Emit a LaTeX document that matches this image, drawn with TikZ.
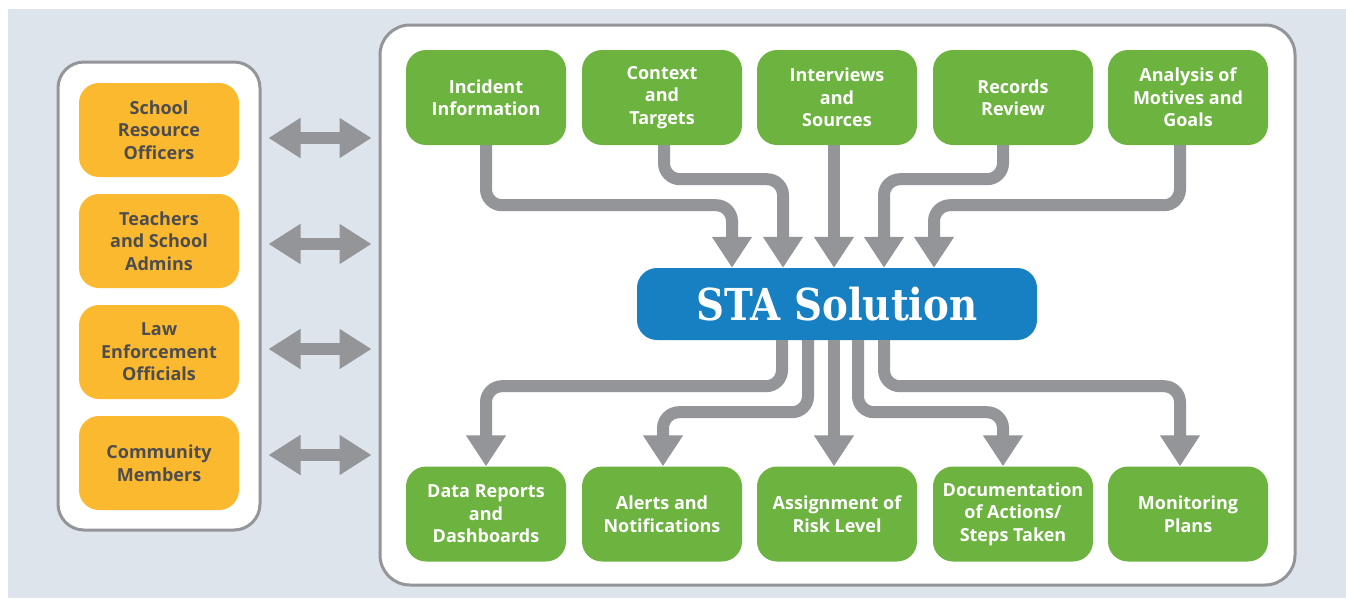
\documentclass[tikz,border=0pt]{standalone}
\usepackage{fontspec}
\setmainfont{Open Sans}
\newfontfamily\slab{DejaVu Serif}
\usetikzlibrary{arrows.meta}
\definecolor{bgc}{HTML}{DDE4EC}
\definecolor{gry}{HTML}{939598}
\definecolor{orng}{HTML}{FBB92F}
\definecolor{grn}{HTML}{6CB33F}
\definecolor{blu}{HTML}{1780C2}
\definecolor{txtg}{HTML}{4D4D4F}
\tikzset{
  panel/.style={draw=gry, line width=3pt, fill=white, rounded corners=26pt, inner sep=0pt},
  obox/.style={fill=orng, rounded corners=20pt, minimum width=160pt, minimum height=94pt,
    text=txtg, font=\bfseries\fontsize{18}{22.5}\selectfont, align=center, inner sep=0pt},
  gbox/.style={fill=grn, rounded corners=20pt, minimum width=160pt, minimum height=95pt,
    text=white, font=\bfseries\fontsize{18}{22.5}\selectfont, align=center, inner sep=0pt},
  stabox/.style={fill=blu, rounded corners=20pt, minimum width=400pt, minimum height=72pt,
    text=white, inner sep=0pt},
  flow/.style={draw=gry, line width=12pt, rounded corners=16pt,
    -{Triangle[length=31pt,width=38pt]}},
  dbl/.style={draw=gry, line width=12pt,
    {Triangle[length=32pt,width=38pt]}-{Triangle[length=32pt,width=38pt]},
    shorten <=7pt, shorten >=7pt}
}
\begin{document}
\begin{tikzpicture}[x=1pt,y=-1pt]
\useasboundingbox (0,0) rectangle (1346,598);
\fill[bgc] (8,9) rectangle (1346,598);

% panels
\node[panel, minimum width=202pt, minimum height=468pt] (lp) at (159,296) {};
\node[panel, rounded corners=30pt, minimum width=915pt, minimum height=560pt] (rp) at (837.5,305) {};

% left orange boxes
\node[obox] (sro) at (159,130) {School\\Resource\\Officers};
\node[obox] (tch) at (159,241) {Teachers\\and School\\Admins};
\node[obox] (law) at (159,352) {Law\\Enforcement\\Officials};
\node[obox] (com) at (159,463) {Community\\Members};

% double arrows
\draw[dbl] ([yshift=158pt]lp.east) coordinate (a1) -- (a1 -| rp.west);
\draw[dbl] ([yshift=52pt]lp.east) coordinate (a2) -- (a2 -| rp.west);
\draw[dbl] ([yshift=-53pt]lp.east) coordinate (a3) -- (a3 -| rp.west);
\draw[dbl] ([yshift=-159pt]lp.east) coordinate (a4) -- (a4 -| rp.west);

% top green boxes
\node[gbox] (inc) at (486,97.5) {Incident\\Information};
\node[gbox] (ctx) at (662,97.5) {Context\\and\\Targets};
\node[gbox] (int) at (837,97.5) {Interviews\\and\\Sources};
\node[gbox] (rec) at (1013,97.5) {Records\\Review};
\node[gbox] (ana) at (1188,97.5) {Analysis of\\Motives and\\Goals};

% STA
\node[stabox] (sta) at (837,304) {\scalebox{0.88}[1]{\slab\bfseries\fontsize{44}{50}\selectfont STA Solution}};

% bottom green boxes
\node[gbox] (dat) at (486,514) {Data Reports\\and\\Dashboards};
\node[gbox] (alr) at (662,514) {Alerts and\\Notifications};
\node[gbox] (asg) at (837,514) {Assignment of\\Risk Level};
\node[gbox] (doc) at (1013,514) {Documentation\\of Actions/\\Steps Taken};
\node[gbox] (mon) at (1188,514) {Monitoring\\Plans};

% top flows
\draw[flow] (inc.south) -- ++(0,60) -| ([xshift=-105pt]sta.north);
\draw[flow] ([xshift=2pt]ctx.south) -- ++(0,34) -| ([xshift=-54pt]sta.north);
\draw[flow] ([xshift=-3pt]int.south) -- ([xshift=-3pt]sta.north);
\draw[flow] ([xshift=-10pt]rec.south) -- ++(0,34) -| ([xshift=47pt]sta.north);
\draw[flow] ([xshift=-8pt]ana.south) -- ++(0,60) -| ([xshift=97pt]sta.north);

% bottom flows
\draw[flow] ([xshift=-55pt]sta.south) -- ++(0,46) -| (dat.north);
\draw[flow] ([xshift=-29pt]sta.south) -- ++(0,72) -| ([xshift=1pt]alr.north);
\draw[flow] ([xshift=-3pt]sta.south) -- ([xshift=-3pt]asg.north);
\draw[flow] ([xshift=21pt]sta.south) -- ++(0,72) -| ([xshift=-10pt]doc.north);
\draw[flow] ([xshift=47pt]sta.south) -- ++(0,46) -| ([xshift=-8pt]mon.north);
\end{tikzpicture}
\end{document}
